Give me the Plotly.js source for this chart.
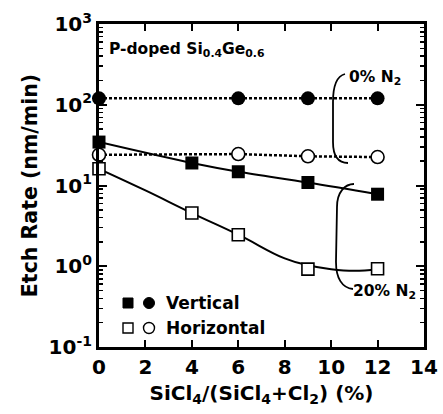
<!DOCTYPE html>
<html><head><meta charset="utf-8">
<script src="https://cdn.plot.ly/plotly-3.0.1.min.js"></script>
<style>html,body{margin:0;padding:0;background:#fff}#chart{width:443px;height:414px}</style>
</head><body><div id="chart"></div>
<script>
// ---- data ----
const xPts = [0, 4, 6, 9, 12];
const xCirc = [0, 6, 9, 12];
const vert0N2 = [120, 120, 120, 120];          // filled circles, 0% N2 vertical
const horiz0N2 = [24, 24.5, 23, 22.5];          // open circles, 0% N2 horizontal
const vert20N2 = [34.5, 19, 14.8, 10.9, 7.8];   // filled squares, 20% N2 vertical
const horiz20N2 = [16.1, 4.56, 2.46, 0.92, 0.93]; // open squares, 20% N2 horizontal
const fitX = [0, 2, 4, 6, 8, 9, 10, 11, 12];
const fitHoriz20 = [16.1, 8.7, 4.56, 2.46, 1.25, 1.03, 0.92, 0.88, 0.92];
const xTickVals = [0, 2, 4, 6, 8, 10, 12, 14];
const yTickVals = [0.1, 1, 10, 100, 1000];
const yTickText = ['10<sup>-1</sup>', '10<sup>0</sup>', '10<sup>1</sup>', '10<sup>2</sup>', '10<sup>3</sup>'];

// ---- layout helpers ----
const L = 99, R = 19, T = 24, B = 67, W = 443, H = 414;
const PW = W - L - R, PH = H - T - B;
const px = x => (x - L) / PW;
const py = y => (H - B - y) / PH;
const pt = (x, y) => px(x).toFixed(4) + ',' + py(y).toFixed(4);

const minorVals = [];
for (let e = -1; e < 3; e++) for (let k = 2; k <= 9; k++) minorVals.push(k * Math.pow(10, e));

const FONT = 'DejaVu Sans, Arial, sans-serif';

const traces = [
  { x: xCirc, y: vert0N2, mode: 'lines+markers', cliponaxis: false,
    line: { color: 'black', width: 2.5, dash: '3px,2px' },
    marker: { symbol: 'circle', size: 14, color: 'black' } },
  { x: xCirc, y: horiz0N2, mode: 'lines', cliponaxis: false,
    line: { color: 'black', width: 2.5, dash: '3px,2px' } },
  { x: xCirc, y: horiz0N2, mode: 'markers', cliponaxis: false,
    marker: { symbol: 'circle', size: 13, color: 'white', line: { color: 'black', width: 1.6 } } },
  { x: xPts, y: vert20N2, mode: 'lines+markers', cliponaxis: false,
    line: { color: 'black', width: 2, shape: 'spline', smoothing: 1 },
    marker: { symbol: 'square', size: 13, color: 'black' } },
  { x: fitX, y: fitHoriz20, mode: 'lines', cliponaxis: false,
    line: { color: 'black', width: 2, shape: 'spline', smoothing: 1.2 } },
  { x: xPts, y: horiz20N2, mode: 'markers', cliponaxis: false,
    marker: { symbol: 'square', size: 12, color: 'white', line: { color: 'black', width: 1.6 } } }
];

const bracket0 = 'M ' + pt(345, 74) + ' C ' + pt(337, 76) + ' ' + pt(333, 86) + ' ' + pt(333, 102) +
  ' L ' + pt(333, 142) + ' C ' + pt(333, 156) + ' ' + pt(338, 163) + ' ' + pt(348, 163);
const bracket20 = 'M ' + pt(354, 184) + ' C ' + pt(345, 184) + ' ' + pt(337, 192) + ' ' + pt(337, 207) +
  ' L ' + pt(336, 262) + ' C ' + pt(336, 278) + ' ' + pt(342, 288) + ' ' + pt(353, 289);

const shapes = [
  { type: 'path', xref: 'paper', yref: 'paper', path: bracket0, line: { color: 'black', width: 1.8 } },
  { type: 'path', xref: 'paper', yref: 'paper', path: bracket20, line: { color: 'black', width: 1.8 } },
  // legend symbols
  { type: 'rect', xref: 'paper', yref: 'paper', x0: px(123), x1: px(133), y0: py(298), y1: py(308), fillcolor: 'black', line: { color: 'black', width: 1 } },
  { type: 'circle', xref: 'paper', yref: 'paper', x0: px(143.5), x1: px(154.5), y0: py(297.5), y1: py(308.5), fillcolor: 'black', line: { color: 'black', width: 1 } },
  { type: 'rect', xref: 'paper', yref: 'paper', x0: px(123), x1: px(133), y0: py(323), y1: py(333), fillcolor: 'white', line: { color: 'black', width: 1.4 } },
  { type: 'circle', xref: 'paper', yref: 'paper', x0: px(143.5), x1: px(154.5), y0: py(322.5), y1: py(333.5), fillcolor: 'white', line: { color: 'black', width: 1.4 } }
];

const ann = (x, y, text, size) => ({ xref: 'paper', yref: 'paper', x: px(x), y: py(y), text: '<b>' + text + '</b>',
  showarrow: false, xanchor: 'left', yanchor: 'middle', xshift: -2, font: { family: FONT, size: size || 17, color: 'black' } });

const annotations = [
  ann(109, 50, 'P-doped Si<sub>0.4</sub>Ge<sub>0.6</sub>', 15.5),
  ann(349, 78, '0% N<sub>2</sub>', 15.5),
  ann(353, 292, '20% N<sub>2</sub>', 15.5),
  ann(166, 303, 'Vertical', 17),
  ann(166, 328, 'Horizontal', 17)
];

const layout = {
  width: W, height: H,
  margin: { l: L, r: R, t: T, b: B, pad: 0 },
  paper_bgcolor: 'white', plot_bgcolor: 'white',
  showlegend: false,
  font: { family: FONT, color: 'black' },
  xaxis: {
    range: [0, 14], tickvals: xTickVals, ticktext: xTickVals.map(v => '<b>' + v + '</b>'),
    ticks: 'inside', ticklen: 7, tickwidth: 2, tickcolor: 'black',
    showline: true, linewidth: 3, linecolor: 'black', mirror: 'ticks',
    showgrid: false, zeroline: false,
    tickfont: { family: FONT, size: 20, color: 'black' },
    title: { text: '<b>SiCl<sub>4</sub>/(SiCl<sub>4</sub>+Cl<sub>2</sub>) (%)</b>', font: { family: FONT, size: 20, color: 'black' }, standoff: 8 }
  },
  yaxis: {
    type: 'log', range: [-1, 3],
    tickvals: yTickVals, ticktext: yTickText.map(t => '<b>' + t + '</b>'),
    ticks: 'inside', ticklen: 8, tickwidth: 2, tickcolor: 'black',
    minor: { tickmode: 'array', tickvals: minorVals, ticks: 'inside', ticklen: 4, tickwidth: 1.5, tickcolor: 'black', showgrid: false },
    showline: true, linewidth: 3, linecolor: 'black', mirror: 'ticks',
    showgrid: false, zeroline: false,
    tickfont: { family: FONT, size: 20, color: 'black' },
    title: { text: '<b>Etch Rate (nm/min)</b>', font: { family: FONT, size: 20.5, color: 'black' }, standoff: 6 }
  },
  shapes: shapes,
  annotations: annotations
};

Plotly.newPlot('chart', traces, layout, { staticPlot: true, displayModeBar: false });
</script></body></html>
